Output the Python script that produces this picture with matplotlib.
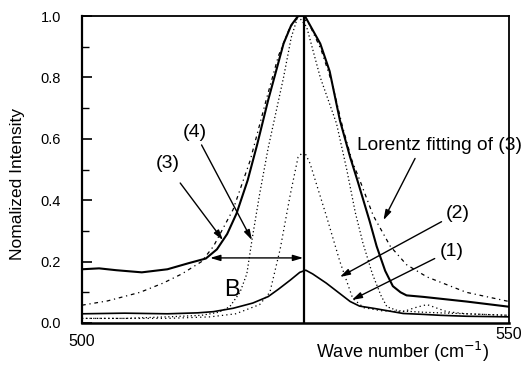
import matplotlib
matplotlib.use("Agg")
import matplotlib.pyplot as plt
import matplotlib.transforms as mtransforms

plt.rcParams['font.family'] = ['Liberation Sans', 'DejaVu Sans']

# ---- data ----
x_3 = [500, 502, 504, 507, 510, 512.5, 514.5, 515.8, 517, 518.1, 519.4, 520.5, 521.8,
       523.6, 524.5, 525.3, 526.1, 527.9, 529, 530.2, 531.4, 532.3, 533.7, 534.5,
       535.5, 536.4, 537.3, 538, 540, 545, 550]
y_3 = [0.175, 0.178, 0.172, 0.165, 0.175, 0.195, 0.21, 0.24, 0.29, 0.357, 0.465, 0.58, 0.726,
       0.91, 0.97, 1.0, 1.0, 0.91, 0.82, 0.66, 0.54, 0.46, 0.33, 0.25,
       0.17, 0.12, 0.10, 0.09, 0.085, 0.07, 0.053]

x_lor = [500, 503, 506.8, 509.5, 511.7, 514, 515.4, 517.7, 519.7, 521.6, 523, 524.3, 525.4,
         526.5, 528, 529.3, 530.5, 531.6, 532.6, 534.1, 536.1, 538, 540.4, 545, 550]
y_lor = [0.058, 0.072, 0.10, 0.13, 0.16, 0.20, 0.25, 0.37, 0.53, 0.73, 0.87, 0.96, 1.0,
         0.98, 0.89, 0.78, 0.64, 0.53, 0.46, 0.35, 0.25, 0.19, 0.15, 0.10, 0.07]

x_4 = [500, 505, 510, 514, 516, 517.3, 518.5, 519.3, 519.9, 520.8, 521.8, 523.6, 524.5,
       525.3, 526.3, 527.9, 529.8, 531, 532, 532.9, 534, 535, 535.7, 537, 540, 545, 550]
y_4 = [0.015, 0.015, 0.02, 0.025, 0.035, 0.053, 0.10, 0.16, 0.27, 0.42, 0.57, 0.80, 0.93,
       1.0, 0.965, 0.80, 0.65, 0.50, 0.36, 0.26, 0.16, 0.09, 0.053, 0.04, 0.035, 0.03, 0.025]

x_2 = [500, 510, 515, 518, 520.8, 522, 523.2, 524.4, 525.3, 526, 526.7, 528.6, 530.2,
       531.7, 533, 535, 537.6, 539, 540.4, 542.7, 545, 550]
y_2 = [0.015, 0.015, 0.02, 0.03, 0.06, 0.10, 0.24, 0.42, 0.54, 0.56, 0.52, 0.35, 0.20,
       0.08, 0.05, 0.04, 0.037, 0.05, 0.06, 0.037, 0.03, 0.025]

x_1 = [500, 505, 510, 513.5, 515.4, 517.7, 520, 521.8, 523, 524.4, 525.5, 526.2, 527,
       528.6, 530, 531.4, 532.5, 534.1, 537.6, 540, 542, 545, 550]
y_1 = [0.03, 0.032, 0.03, 0.033, 0.037, 0.048, 0.065, 0.086, 0.11, 0.14, 0.165, 0.172, 0.16,
       0.13, 0.10, 0.07, 0.055, 0.048, 0.031, 0.028, 0.025, 0.022, 0.02]

peak_x = 526.0
y_ticks = [0.0, 0.2, 0.4, 0.6, 0.8, 1.0]
y_tick_labels = ['0.0', '0.2', '0.4', '0.6', '0.8', '1.0']
x_ticks = [500, 550]
x_tick_labels = ['500', '550']

# annotations: (label, text xy, arrow start, arrow tip)
labels = [
    ('(4)', (513.2, 0.62), (514.0, 0.58), (519.9, 0.27)),
    ('(3)', (510.0, 0.52), (511.5, 0.456), (516.5, 0.27)),
    ('(2)', (544.0, 0.357), (542.1, 0.33), (530.2, 0.15)),
    ('(1)', (543.3, 0.232), (541.3, 0.21), (531.6, 0.075)),
]
lor_label = ('Lorentz fitting of (3)', (532.2, 0.577), (539.0, 0.536), (535.3, 0.335))
b_arrow = (515.0, 525.9, 0.212)
b_text = ('B', (517.5, 0.107))

fig = plt.figure(figsize=(5.25, 3.67), dpi=100)
ax = fig.add_axes([82/525, 1-323/367, (509-82)/525, (323-16)/367])

ax.plot(x_3, y_3, color='black', lw=1.5)
ax.plot(x_1, y_1, color='black', lw=1.2)
ax.plot(x_lor, y_lor, color='black', lw=0.9, linestyle=(0, (3, 3, 1, 3)))
ax.plot(x_4, y_4, color='black', lw=0.9, linestyle=(0, (1, 2)))
ax.plot(x_2, y_2, color='black', lw=0.9, linestyle=(0, (1, 2.5)))
ax.plot([peak_x, peak_x], [0, 1.0], color='black', lw=1.6)

ax.set_xlim(500, 550)
ax.set_ylim(0, 1.0)
ax.set_yticks(y_ticks)
ax.set_yticklabels(y_tick_labels, fontsize=10.5)
ax.set_yticks([0.1, 0.3, 0.5, 0.7, 0.9], minor=True)
ax.tick_params(axis='y', which='major', direction='in', length=7, width=1.2, pad=15)
ax.tick_params(axis='y', which='minor', direction='in', length=5, width=1.0)
ax.set_xticks(x_ticks)
ax.set_xticklabels(x_tick_labels, fontsize=11.5)
ax.tick_params(axis='x', which='both', length=0, pad=3)
xl = ax.get_xticklabels()
xl[0].set_transform(xl[0].get_transform() + mtransforms.ScaledTranslation(0, -5/72, fig.dpi_scale_trans))
for s in ax.spines.values():
    s.set_linewidth(1.3)
ax.spines['bottom'].set_linewidth(1.8)
ax.spines['left'].set_linewidth(1.6)

arrowkw = dict(arrowstyle='-|>,head_length=0.6,head_width=0.18', color='black', lw=1.0,
               shrinkA=0, shrinkB=0)
for txt, txy, a0, a1 in labels:
    ax.text(txy[0], txy[1], txt, fontsize=14, ha='center', va='center')
    ax.annotate('', xy=a1, xytext=a0, arrowprops=arrowkw)

ax.text(lor_label[1][0], lor_label[1][1], lor_label[0], fontsize=13.8, ha='left', va='center',
        clip_on=False)
ax.annotate('', xy=lor_label[3], xytext=lor_label[2], arrowprops=arrowkw)

ax.annotate('', xy=(b_arrow[0], b_arrow[2]), xytext=(b_arrow[1], b_arrow[2]),
            arrowprops=dict(arrowstyle='<|-|>,head_length=0.6,head_width=0.18', color='black',
                            lw=1.0, shrinkA=0, shrinkB=0))
ax.text(b_text[1][0], b_text[1][1], b_text[0], fontsize=17, ha='center', va='center')

fig.text(18/525, 1-184/367, 'Nomalized Intensity', rotation=90, fontsize=12.5,
         ha='center', va='center')
fig.text(403/525, 1-352/367, 'Wave number (cm$^{-1}$)', fontsize=13, ha='center', va='center')

fig.savefig('out.png', dpi=100)
